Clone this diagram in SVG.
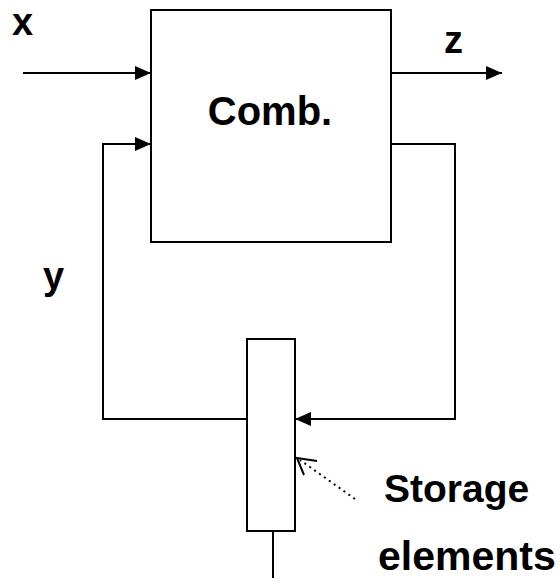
<svg xmlns="http://www.w3.org/2000/svg" width="560" height="587" viewBox="0 0 560 587">
  <style>
    .box { fill: #fff; stroke: #000; stroke-width: 2; }
    .wire { fill: none; stroke: #000; stroke-width: 2; }
    .dot { fill: none; stroke: #000; stroke-width: 2; stroke-dasharray: 2 4; }
    .lbl { font-family: "Liberation Sans", Arial, sans-serif; font-weight: bold; fill: #000; }
  </style>
  <defs>
    <marker id="arr" viewBox="0 0 16 14" refX="16" refY="7" markerWidth="16" markerHeight="14" markerUnits="userSpaceOnUse" orient="auto">
      <path d="M0,0 L16,7 L0,14 Z" fill="#000"/>
    </marker>
  </defs>
  <g id="connectors">
    <line class="wire" x1="23" y1="73" x2="151" y2="73" marker-end="url(#arr)"/>
    <line class="wire" x1="391" y1="73" x2="502" y2="73" marker-end="url(#arr)"/>
    <polyline class="wire" points="247,419 103,419 103,144 151,144" marker-end="url(#arr)"/>
    <polyline class="wire" points="391,144 455,144 455,419 295,419" marker-end="url(#arr)"/>
    <line class="wire" x1="273" y1="531" x2="273" y2="578"/>
    <line class="dot" x1="355" y1="499" x2="300" y2="460"/>
    <polyline class="wire" points="317,461 297,458 304,475" stroke-width="2.5"/>
  </g>
  <g id="comb">
    <rect class="box" x="151" y="10" width="240" height="232"/>
    <text class="lbl" x="270" y="125" font-size="40" text-anchor="middle">Comb.</text>
  </g>
  <g id="storage">
    <rect class="box" x="247" y="339" width="48" height="192"/>
  </g>
  <g id="labels">
    <text class="lbl" x="12" y="35" font-size="38">x</text>
    <text class="lbl" x="444" y="53" font-size="38">z</text>
    <text class="lbl" x="43" y="289" font-size="38">y</text>
    <text class="lbl" x="384" y="502" font-size="39">Storage</text>
    <text class="lbl" x="378" y="570" font-size="41">elements</text>
  </g>
</svg>
